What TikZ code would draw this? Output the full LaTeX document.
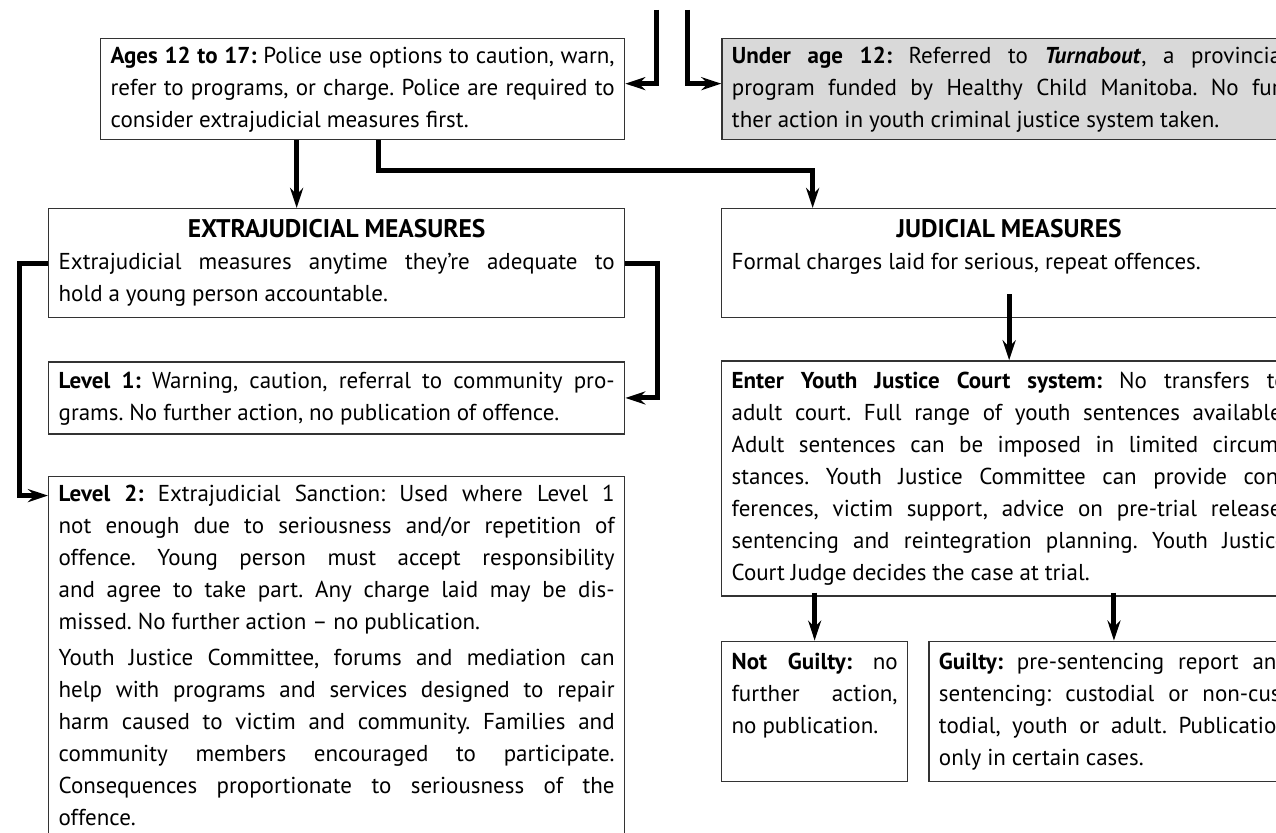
\documentclass[tikz,border=0pt]{standalone}
\usepackage{fontspec}
\setmainfont{PT Sans}
\usepackage{xcolor}
\usepackage{tikz}
\usetikzlibrary{arrows.meta, positioning}
\definecolor{boxline}{HTML}{333333}
\definecolor{shadegrey}{HTML}{D9D9D9}
\hyphenpenalty=10000
\exhyphenpenalty=10000
\newcommand{\boxfont}{\fontsize{23}{32}\selectfont\frenchspacing\parindent=0pt
  \spaceskip=0.26em plus 0.5em minus 0.14em\xspaceskip=\spaceskip
  \tolerance=9999\emergencystretch=20pt}
\newcommand{\boxhead}[1]{\centerline{\strut\fontsize{25.5}{32}\selectfont\textbf{#1}}}
\tikzset{
  box/.style={rectangle, draw=boxline, line width=1.3pt, fill=white,
              align=justify, inner xsep=10pt, inner ysep=2.5pt, font=\boxfont},
  greybox/.style={box, fill=shadegrey},
  flow/.style={-{Stealth[length=20pt, width=13pt]}, line width=5pt, color=black},
}

\begin{document}
\begin{tikzpicture}[x=1pt, y=-1pt, node distance=43pt and 96pt]
  \useasboundingbox (0,0) rectangle (1276,832);
  \clip (0,0) rectangle (1276,832);

  % police contact
  \node[box, text width=504pt, minimum height=101pt, anchor=north west] (ages) at (100,38)
    {\strut\textbf{Ages 12 to 17:} Police use options to caution, warn,\linebreak
     refer to programs, or charge. Police are required to\linebreak
     consider extrajudicial measures first.\strut};
  \node[greybox, text width=556pt, minimum height=101pt, right=96pt of ages] (under)
    {\strut\textbf{Under age 12:} Referred to \textbf{\textit{Turnabout}}, a provincial\linebreak
     program funded by Healthy Child Manitoba. No fur-\linebreak
     ther action in youth criminal justice system taken.\strut};

  % extrajudicial side
  \node[box, text width=556pt, minimum height=109pt, anchor=north west] (extra) at (48,208)
    {\boxhead{EXTRAJUDICIAL MEASURES}
     \strut Extrajudicial measures anytime they’re adequate to\linebreak
     hold a young person accountable.\strut};
  \node[box, text width=556pt, minimum height=72pt, below=43pt of extra] (lvlone)
    {\strut\textbf{Level 1:} Warning, caution, referral to community pro-\linebreak
     grams. No further action, no publication of offence.\strut};
  \node[box, text width=556pt, below=41pt of lvlone] (lvltwo)
    {\strut\textbf{Level 2:} Extrajudicial Sanction: Used where Level 1\linebreak
     not enough due to seriousness and/or repetition of\linebreak
     offence. Young person must accept responsibility\linebreak
     and agree to take part. Any charge laid may be dis-\linebreak
     missed. No further action -- no publication.\strut\par\vspace{4pt}
     \strut Youth Justice Committee, forums and mediation can\linebreak
     help with programs and services designed to repair\linebreak
     harm caused to victim and community. Families and\linebreak
     community members encouraged to participate.\linebreak
     Consequences proportionate to seriousness of the\linebreak
     offence.\strut\par\rule{0pt}{40pt}};

  % judicial side
  \node[box, text width=555pt, minimum height=109pt, anchor=north west] (judicial) at (721,208)
    {\boxhead{JUDICIAL MEASURES}
     \strut Formal charges laid for serious, repeat offences.\strut\par\strut};
  \node[box, text width=555pt, minimum height=235pt, below=42pt of judicial] (court)
    {\strut\textbf{Enter Youth Justice Court system:} No transfers to\linebreak
     adult court. Full range of youth sentences available.\linebreak
     Adult sentences can be imposed in limited circum-\linebreak
     stances. Youth Justice Committee can provide con-\linebreak
     ferences, victim support, advice on pre-trial release,\linebreak
     sentencing and reintegration planning. Youth Justice\linebreak
     Court Judge decides the case at trial.\strut};
  \node[box, text width=166pt, minimum height=140pt, below right=44pt and 0pt of court.south west] (notguilty)
    {\strut\textbf{Not Guilty:} no\linebreak
     further action,\linebreak
     no publication.\strut\par\strut};
  \node[box, text width=350pt, minimum height=140pt, right=20pt of notguilty] (guilty)
    {\strut\textbf{Guilty:} pre-sentencing report and\linebreak
     sentencing: custodial or non-cus-\linebreak
     todial, youth or adult. Publication\linebreak
     only in certain cases.\strut};

  % connectors
  \coordinate (feedA) at (656,10);
  \coordinate (feedB) at (687,10);
  \draw[flow] (feedA) |- ([yshift=5.5pt]ages.east);
  \draw[flow] (feedB) |- ([yshift=5.5pt]under.west);
  \draw[flow] ([xshift=-66pt]ages.south) -- ([xshift=-66pt]ages.south |- extra.north);
  \draw[flow] ([xshift=16pt]ages.south) -- ++(0,30) -| ([xshift=-196.5pt]judicial.north);
  \draw[flow] (extra.west) -- ++(-29,0) |- ([yshift=-20pt]lvltwo.north west);
  \draw[flow] (extra.east) -- ++(32,0) |- (lvlone.east);
  \draw[flow] ([yshift=24pt]judicial.south) -- (court.north);
  \draw[flow, shorten <=-4pt] (notguilty.north |- court.south) -- (notguilty.north);
  \draw[flow, shorten <=-4pt] (guilty.north |- court.south) -- (guilty.north);
\end{tikzpicture}
\end{document}
